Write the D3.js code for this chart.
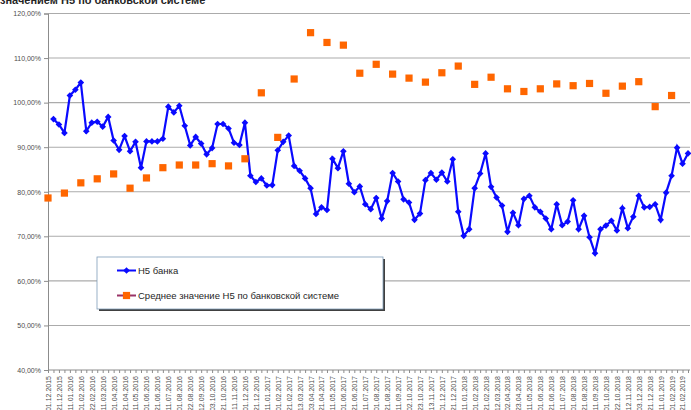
<!DOCTYPE html>
<html>
<head>
<meta charset="utf-8">
<script src="https://cdn.jsdelivr.net/npm/d3@7"></script>
<style>
  html, body { margin: 0; padding: 0; background: #fff; overflow: hidden; }
  svg { display: block; font-family: "Liberation Sans", Arial, sans-serif; }
</style>
</head>
<body>
<svg id="chart" width="691" height="410"></svg>
<script>
const titleText = "значением Н5 по банковской системе";

const categories = [
  "01.12.2015","11.12.2015","21.12.2015","01.01.2016","11.01.2016","21.01.2016",
  "01.02.2016","11.02.2016","22.02.2016","01.03.2016","11.03.2016","21.03.2016",
  "01.04.2016","11.04.2016","21.04.2016","01.05.2016","11.05.2016","21.05.2016",
  "01.06.2016","11.06.2016","21.06.2016","01.07.2016","11.07.2016","21.07.2016",
  "01.08.2016","11.08.2016","22.08.2016","01.09.2016","12.09.2016","21.09.2016",
  "03.10.2016","11.10.2016","21.10.2016","01.11.2016","11.11.2016","21.11.2016",
  "01.12.2016","11.12.2016","21.12.2016","01.01.2017","11.01.2017","21.01.2017",
  "01.02.2017","11.02.2017","21.02.2017","01.03.2017","13.03.2017","21.03.2017",
  "03.04.2017","11.04.2017","21.04.2017","01.05.2017","11.05.2017","21.05.2017",
  "01.06.2017","11.06.2017","21.06.2017","01.07.2017","11.07.2017","21.07.2017",
  "01.08.2017","11.08.2017","21.08.2017","01.09.2017","11.09.2017","21.09.2017",
  "02.10.2017","11.10.2017","23.10.2017","01.11.2017","13.11.2017","21.11.2017",
  "01.12.2017","11.12.2017","21.12.2017","01.01.2018","11.01.2018","21.01.2018",
  "01.02.2018","11.02.2018","21.02.2018","01.03.2018","12.03.2018","21.03.2018",
  "02.04.2018","11.04.2018","23.04.2018","01.05.2018","11.05.2018","21.05.2018",
  "01.06.2018","11.06.2018","21.06.2018","01.07.2018","11.07.2018","21.07.2018",
  "01.08.2018","11.08.2018","21.08.2018","01.09.2018","11.09.2018","21.09.2018",
  "01.10.2018","11.10.2018","22.10.2018","01.11.2018","12.11.2018","21.11.2018",
  "03.12.2018","11.12.2018","21.12.2018","01.01.2019","11.01.2019","21.01.2019",
  "01.02.2019","11.02.2019","21.02.2019","01.03.2019"
];

// Н5 банка, % (first category has no value)
const bankValues = [
  null,
  96.3, 95.1, 93.2, 101.6, 102.9, 104.5, 93.6, 95.5, 95.7, 94.6,
  96.8, 91.5, 89.4, 92.5, 89.1, 91.2, 85.4, 91.3, 91.3, 91.3,
  91.9, 99.1, 97.8, 99.3, 94.8, 90.4, 92.3, 90.8, 88.4, 89.8,
  95.2, 95.2, 94.2, 91.0, 90.5, 95.5, 83.6, 82.2, 83.0, 81.4,
  81.5, 89.3, 91.2, 92.6, 85.8, 84.7, 83.0, 80.8, 75.0, 76.5,
  75.9, 87.4, 85.3, 89.1, 81.8, 79.9, 81.2, 77.2, 76.1, 78.6,
  74.0, 77.9, 84.2, 82.3, 78.3, 77.6, 73.7, 75.1, 82.6, 84.2,
  82.7, 84.3, 82.3, 87.3, 75.5, 70.1, 71.6, 80.8, 84.1, 88.6,
  81.1, 78.7, 76.9, 71.0, 75.3, 72.5, 78.4, 79.1, 76.5, 75.5,
  74.0, 71.6, 77.2, 72.5, 73.3, 78.1, 71.6, 74.6, 69.8, 66.2,
  71.6, 72.4, 73.5, 71.3, 76.3, 71.8, 74.4, 79.1, 76.5, 76.6,
  77.2, 73.7, 79.8, 83.6, 89.9, 86.3, 88.6
];

// Среднее значение Н5 по банковской системе, % (monthly, first date of each month)
const systemValues = [
  78.6, 79.7, 82.0, 82.9, 84.0, 80.8, 83.1, 85.4, 86.0, 86.0, 86.3, 85.8, 87.4,
  102.2, 92.2, 105.3, 115.7, 113.5, 112.9, 106.6, 108.6, 106.4, 105.5, 104.6,
  106.7, 108.2, 104.1, 105.7, 103.1, 102.5, 103.1, 104.2, 103.8, 104.3, 102.1,
  103.7, 104.7, 99.1, 101.6
];
const systemDates = categories.filter((d, i) => i % 3 === 0).slice(0, systemValues.length);

const yTicks = [40, 50, 60, 70, 80, 90, 100, 110, 120];
const seriesNames = ["Н5 банка", "Среднее значение Н5 по банковской системе"];

const svg = d3.select("#chart");
const mLeft = 48, mRight = 688, mTop = 13.5, mBottom = 370;

const x = d3.scalePoint().domain(categories).range([mLeft, mRight]).padding(0);
const y = d3.scaleLinear().domain([40, 120]).range([mBottom, mTop]);

// gridlines
svg.append("g").selectAll("line").data(yTicks.filter(d => d > 40)).join("line")
  .attr("x1", mLeft).attr("x2", mRight + 2)
  .attr("y1", d => y(d)).attr("y2", d => y(d))
  .attr("stroke", "#ababab").attr("stroke-width", 1.1);

// y axis
const yAxis = d3.axisLeft(y).tickValues(yTicks).tickSize(4).tickPadding(3)
  .tickFormat(d => d3.format(".2f")(d).replace(".", ",") + "%");
const gy = svg.append("g").attr("transform", `translate(${mLeft},0)`).call(yAxis);
gy.select(".domain").attr("stroke", "#8c8c8c");
gy.selectAll(".tick line").attr("stroke", "#8c8c8c");
gy.selectAll("text").attr("fill", "#4d4d4d").style("font-size", "7px");

// x axis
const xAxis = d3.axisBottom(x).tickSize(3).tickPadding(2)
  .tickFormat((d, i) => i % 2 === 0 ? d : "");
const gx = svg.append("g").attr("transform", `translate(0,${mBottom})`).call(xAxis);
gx.select(".domain").attr("stroke", "#8c8c8c").attr("d", `M${mLeft},0H${mRight + 2}`);
gx.selectAll(".tick line").attr("stroke", "#8c8c8c");
gx.selectAll("text")
  .attr("fill", "#4d4d4d").style("font-size", "7px")
  .attr("text-anchor", "end")
  .attr("transform", "rotate(-90)")
  .attr("x", -6).attr("y", 0).attr("dy", "0.35em");

// bank line
const line = d3.line()
  .defined(d => d.v != null)
  .x(d => x(d.c)).y(d => y(d.v));
const bankData = categories.map((c, i) => ({c, v: bankValues[i]}));
svg.append("path").datum(bankData)
  .attr("d", line).attr("fill", "none")
  .attr("stroke", "#0a0aff").attr("stroke-width", 2.2);

const diamond = d3.symbol().type(d3.symbolSquare).size(22);
svg.append("g").selectAll("path").data(bankData.filter(d => d.v != null)).join("path")
  .attr("d", diamond)
  .attr("transform", d => `translate(${x(d.c)},${y(d.v)}) rotate(45)`)
  .attr("fill", "#0a0aff");

// system squares
const sysData = systemValues.map((v, i) => ({c: systemDates[i], v}));
svg.append("g").selectAll("rect").data(sysData).join("rect")
  .attr("x", d => x(d.c) - 3.6).attr("y", d => y(d.v) - 3.6)
  .attr("width", 7.2).attr("height", 7.2)
  .attr("fill", "#ff6600");

// title (partially outside the view, as in the source)
svg.append("text").attr("x", 0).attr("y", 4)
  .attr("font-weight", "bold").style("font-size", "11px").attr("fill", "#262626")
  .text(titleText);

// legend
const lg = svg.append("g");
lg.append("rect").attr("x", 99).attr("y", 259).attr("width", 286).attr("height", 52)
  .attr("fill", "#404040");
lg.append("rect").attr("x", 97).attr("y", 257).attr("width", 286).attr("height", 52)
  .attr("fill", "#fff").attr("stroke", "#7f9db9").attr("stroke-width", 0.8);

lg.append("line").attr("x1", 117).attr("x2", 136).attr("y1", 270.5).attr("y2", 270.5)
  .attr("stroke", "#0a0aff").attr("stroke-width", 2);
lg.append("path").attr("d", diamond).attr("transform", "translate(126.5,270.5) rotate(45)")
  .attr("fill", "#0a0aff");
lg.append("line").attr("x1", 117).attr("x2", 136).attr("y1", 295.5).attr("y2", 295.5)
  .attr("stroke", "#993366").attr("stroke-width", 2);
lg.append("rect").attr("x", 122.9).attr("y", 291.9).attr("width", 7.2).attr("height", 7.2)
  .attr("fill", "#ff6600");

lg.selectAll("text.lt").data(seriesNames).join("text").attr("class", "lt")
  .attr("x", 138).attr("y", (d, i) => 270.5 + i * 25).attr("dy", "0.35em")
  .style("font-size", "9.5px").attr("fill", "#262626")
  .text(d => d);
</script>
</body>
</html>
